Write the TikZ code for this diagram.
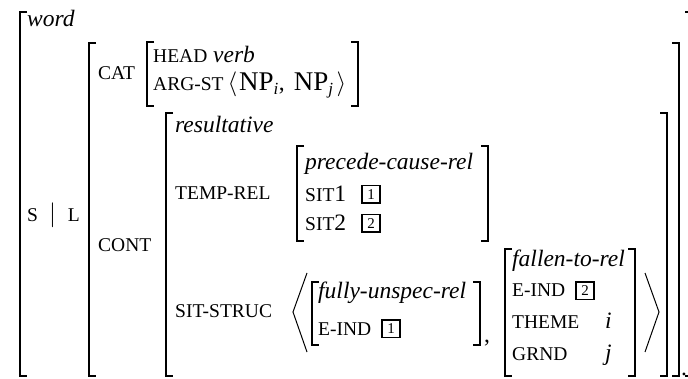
\documentclass[tikz,border=0pt]{standalone}
\usepackage{fontspec}
\setmainfont{Liberation Serif}
\usetikzlibrary{positioning}

\newcommand{\ft}[1]{{\fontsize{19.5}{23}\selectfont #1}}
\newcommand{\np}{{\fontsize{27}{28}\selectfont NP}}
\newcommand{\sub}[1]{\textsubscript{\fontsize{17}{17}\selectfont\textit{#1}}}
\newcommand{\lbrk}[3]{\draw[brk] (#1+7,#2) -- (#1,#2) -- (#1,#3) -- (#1+7,#3);}
\newcommand{\rbrk}[3]{\draw[brk] (#1-7,#2) -- (#1,#2) -- (#1,#3) -- (#1-7,#3);}

\begin{document}
\begin{tikzpicture}[x=1pt,y=-1pt,
  every node/.style={inner sep=0pt,anchor=base west,font=\fontsize{23.5}{27}\selectfont}]
\tikzset{brk/.style = {line width=1.3pt},
  tagbox/.style = {draw, line width=1.7pt, minimum size=17.5pt,
    inner sep=0pt, font=\fontsize{15}{15}\selectfont}}
\useasboundingbox (0,0) rectangle (688,379);
\clip (0,0) rectangle (688,379);
% outer word matrix
\lbrk{20}{12}{376} \rbrk{692}{12}{376}
\node (word) at (27,27) {\textit{word}};
\node (sl) at (27,222) {\ft{S}\hspace{11pt}$|$\hspace{12pt}\ft{L}};
% local value
\lbrk{89}{43}{376} \rbrk{679}{43}{376}
\node (cat) at (98,80) {\ft{CAT}};
\lbrk{147}{42}{106} \rbrk{358}{42}{106}
\node (head) at (153,63) {\ft{HEAD} \textit{verb}};
\node (argst) at (153,91) {\ft{ARG-ST}\,$\big\langle$\hspace{2pt}\np\sub{i},\hspace{9pt}\np\sub{j}\hspace{3pt}$\big\rangle$};
\node (cont) at (98,252) {\ft{CONT}};
\lbrk{166}{113}{376} \rbrk{667}{113}{376}
\node (result) at (175,133) {\textit{resultative}};
% temp-rel
\node (temprel) at (175,200) {\ft{TEMP-REL}};
\lbrk{297}{146}{241} \rbrk{488}{146}{241}
\node (precede) at (305,170) {\textit{precede-cause-rel}};
\node (sit1) at (305,202) {\ft{SIT}1};
\node[tagbox, right=15pt of sit1] (t1) {1};
\node (sit2) at (305,231) {\ft{SIT}2};
\node[tagbox, right=15pt of sit2] (t2) {2};
% sit-struc list
\node (sitstruc) at (175,318) {\ft{SIT-STRUC}};
\draw[line width=1pt] (307,273) -- (293,312) -- (307,352);
\lbrk{312}{282}{345} \rbrk{480}{282}{345}
\node (fully) at (318,299) {\textit{fully-unspec-rel}};
\node (eind1) at (318,335) {\ft{E-IND}};
\node[tagbox, right=10pt of eind1] (t3) {1};
\node (comma) at (484,342) {,};
\lbrk{505}{249}{376} \rbrk{635}{249}{376}
\node (fallen) at (512,267) {\textit{fallen-to-rel}};
\node (eind2) at (512,297) {\ft{E-IND}};
\node[tagbox, right=10pt of eind2] (t4) {2};
\node (theme) at (512,328) {\ft{THEME}};
\node (vi) at (605,328) {\textit{i}};
\node (grnd) at (512,360) {\ft{GRND}};
\node (vj) at (605,360) {\textit{j}};
\draw[line width=1pt] (645,273) -- (659,312) -- (645,352);
\node (dot) at (681,375) {.};
\end{tikzpicture}
\end{document}
